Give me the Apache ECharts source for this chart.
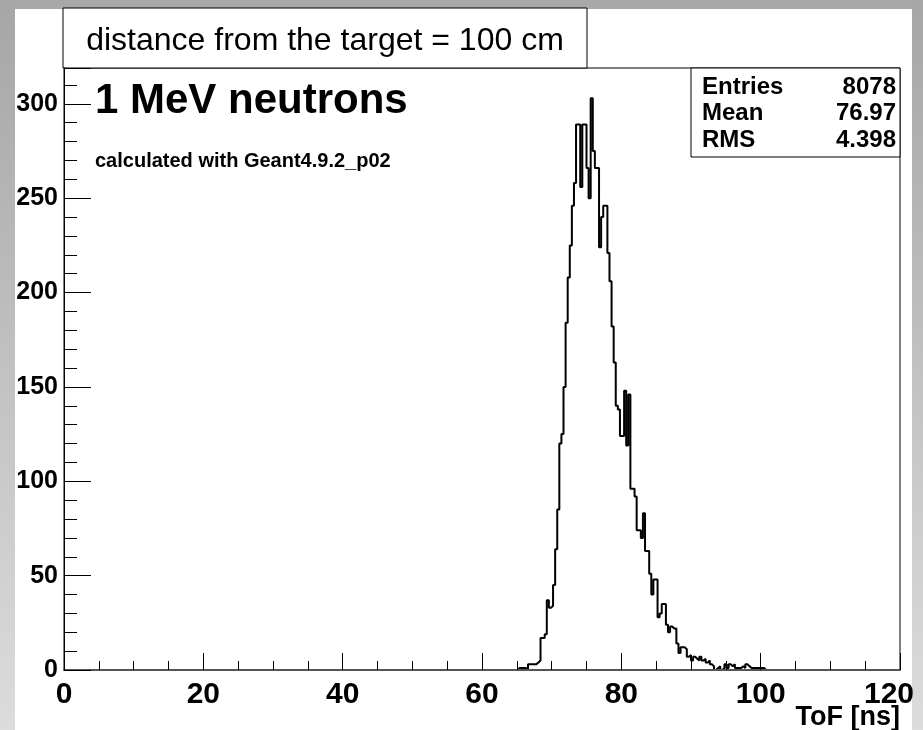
<!DOCTYPE html>
<html>
<head>
<meta charset="utf-8">
<script src="https://cdn.jsdelivr.net/npm/echarts@6/dist/echarts.min.js"></script>
<style>
  html, body { margin: 0; padding: 0; background: #ffffff; }
  #chart { width: 923px; height: 730px; }
</style>
</head>
<body>
<div id="chart"></div>
<script>
// Time-of-flight histogram: 1 MeV neutrons at 100 cm from the target
const binWidth = 0.3;          // ns per bin
const firstEdge = 64.8;        // low edge of the first listed bin (ns)
const counts = [
  0, 1, 1, 1, 1, 0, 3, 3, 3, 3, 4, 5, 17, 17, 19, 37, 33, 34, 45, 64,
  85, 120, 125, 150, 184, 208, 225, 246, 258, 289, 289, 256, 289, 289, 266, 250, 303, 275, 266, 266,
  224, 240, 246, 246, 221, 206, 182, 163, 140, 138, 124, 124, 148, 119, 146, 96, 96, 92, 74, 74,
  70, 83, 63, 63, 51, 40, 48, 48, 28, 30, 35, 35, 24, 20, 23, 22, 22, 14, 9, 12,
  12, 11, 7, 8, 5, 7, 6, 5, 7, 5, 6, 4, 5, 3, 2, 0, 1, 2, 0, 1,
  3, 1, 3, 2, 3, 1, 1, 1, 2, 1, 3, 2, 1, 1, 1, 1, 1, 1, 1, 0
];

const xTicks = [0, 20, 40, 60, 80, 100, 120];
const yTicks = [0, 50, 100, 150, 200, 250, 300];
const titleText = 'distance from the target = 100 cm';
const headline = '1 MeV neutrons';
const subline = 'calculated with Geant4.9.2_p02';
const statNames = ['Entries', 'Mean', 'RMS'];
const statValues = ['8078', '76.97', '4.398'];
const xTitle = 'ToF [ns]';

// step points: one per bin low edge, closed by the last upper edge
const stepData = counts.map((c, i) => [+(firstEdge + i * binWidth).toFixed(2), c]);
stepData.push([+(firstEdge + counts.length * binWidth).toFixed(2), counts[counts.length - 1]]);

const FONT = '"Liberation Sans", Arial, Helvetica, sans-serif';

const chart = echarts.init(document.getElementById('chart'), null, { renderer: 'canvas' });

const plot = { left: 64, right: 900, top: 68, bottom: 670 };

const statLines = statNames.map((n, i) => ([
  { type: 'text', x: 702, y: 87 + i * 26.5, z: 20,
    style: { text: n, font: 'bold 24px ' + FONT, fill: '#000', align: 'left', verticalAlign: 'middle' } },
  { type: 'text', x: 896, y: 87 + i * 26.5, z: 20,
    style: { text: statValues[i], font: 'bold 24px ' + FONT, fill: '#000', align: 'right', verticalAlign: 'middle' } }
])).flat();

const greyStrip = new echarts.graphic.LinearGradient(0, 0, 0, 1, [
  { offset: 0, color: '#a6a6a6' }, { offset: 1, color: '#dcdcdc' }]);

const lastX = xTicks[xTicks.length - 1];

chart.setOption({
  animation: false,
  backgroundColor: '#ffffff',
  grid: {
    left: plot.left, top: plot.top,
    width: plot.right - plot.left, height: plot.bottom - plot.top,
    outerBoundsMode: 'none', containLabel: false,
    show: true, borderColor: '#000', borderWidth: 1, backgroundColor: 'transparent'
  },
  xAxis: {
    type: 'value', min: 0, max: 120, interval: 20, z: 30,
    axisLine: { show: true, onZero: false, lineStyle: { color: '#555', width: 2 } },
    axisTick: { show: true, inside: true, length: 17, lineStyle: { color: '#000', width: 1 } },
    minorTick: { show: true, splitNumber: 4, length: 9, lineStyle: { color: '#000', width: 1 } },
    splitLine: { show: false },
    axisLabel: {
      color: '#000', fontFamily: FONT, fontWeight: 'bold', fontSize: 30, margin: 10,
      hideOverlap: false,
      // the last label is pulled inward so it stays on the canvas
      formatter: v => (!xTicks.includes(v) ? '' : (v === lastX ? '{edge|' + v + '}' : String(v))),
      rich: {
        edge: { fontFamily: FONT, fontWeight: 'bold', fontSize: 30, color: '#000', padding: [0, 22, 0, 0] }
      }
    }
  },
  yAxis: {
    type: 'value', min: 0, max: 319, interval: 50, z: 30,
    axisLine: { show: true, onZero: false, lineStyle: { color: '#000', width: 1 } },
    axisTick: { show: true, inside: true, length: 27, lineStyle: { color: '#000', width: 1 } },
    minorTick: { show: true, splitNumber: 5, length: 13, lineStyle: { color: '#000', width: 1 } },
    splitLine: { show: false },
    axisLabel: {
      color: '#000', fontFamily: FONT, fontWeight: 'bold', fontSize: 25, margin: 6,
      formatter: v => (yTicks.includes(v) ? String(v) : '')
    }
  },
  series: [{
    type: 'line',
    step: 'end',
    data: stepData,
    showSymbol: false,
    symbol: 'none',
    lineStyle: { color: '#000', width: 2 },
    z: 5
  }],
  graphic: [
    // canvas border: raised frame in grey
    { type: 'rect', x: 0, y: 0, z: 1, silent: true,
      shape: { width: 923, height: 9 }, style: { fill: '#a8a8a8' } },
    { type: 'rect', x: 0, y: 0, z: 1, silent: true,
      shape: { width: 15, height: 730 }, style: { fill: greyStrip } },
    { type: 'rect', x: 912, y: 0, z: 1, silent: true,
      shape: { width: 11, height: 730 }, style: { fill: greyStrip } },
    // title box
    { type: 'rect', x: 63, y: 8, z: 10, silent: true,
      shape: { width: 524, height: 60 },
      style: { fill: '#fff', stroke: '#000', lineWidth: 1 } },
    { type: 'text', x: 325, y: 41, z: 11,
      style: { text: titleText, font: '32px ' + FONT, fill: '#000', align: 'center', verticalAlign: 'middle' } },
    // statistics box
    { type: 'rect', x: 691, y: 68, z: 10, silent: true,
      shape: { width: 209, height: 89 },
      style: { fill: '#fff', stroke: '#000', lineWidth: 1 } },
    ...statLines,
    // annotations inside the frame
    { type: 'text', x: 95, y: 101, z: 12,
      style: { text: headline, font: 'bold 42px ' + FONT, fill: '#000', align: 'left', verticalAlign: 'middle' } },
    { type: 'text', x: 95, y: 161, z: 12,
      style: { text: subline, font: 'bold 20px ' + FONT, fill: '#000', align: 'left', verticalAlign: 'middle' } },
    // x-axis title
    { type: 'text', x: 900, y: 718, z: 12,
      style: { text: xTitle, font: 'bold 27px ' + FONT, fill: '#000', align: 'right', verticalAlign: 'middle' } }
  ]
});
</script>
</body>
</html>
